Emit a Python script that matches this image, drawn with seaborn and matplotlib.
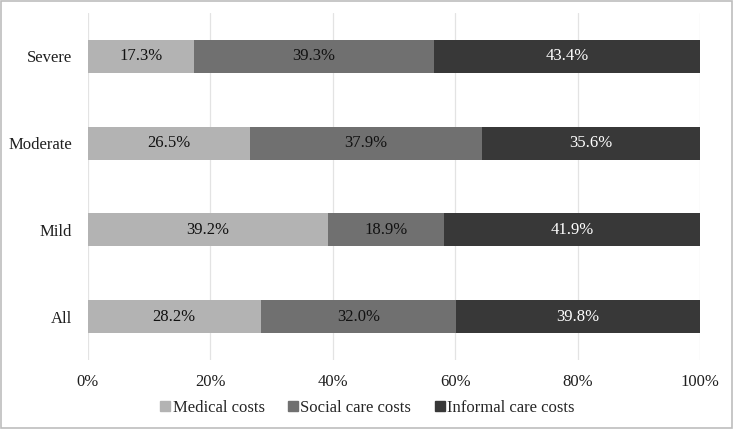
import matplotlib
matplotlib.use("Agg")
import matplotlib.pyplot as plt
import seaborn as sns
import pandas as pd
import numpy as np
from matplotlib.patches import Rectangle
from matplotlib.lines import Line2D

categories = ["Severe", "Moderate", "Mild", "All"]
medical = [17.3, 26.5, 39.2, 28.2]
social = [39.3, 37.9, 18.9, 32.0]
informal = [43.4, 35.6, 41.9, 39.8]
series_names = ["Medical costs", "Social care costs", "Informal care costs"]
colors = ["#b3b3b3", "#707070", "#383838"]
text_colors = ["#111111", "#111111", "#ffffff"]
xticks = [0, 20, 40, 60, 80, 100]

sns.set_style("white")
plt.rcParams["font.family"] = ["Liberation Serif", "DejaVu Serif"]

fig = plt.figure(figsize=(7.33, 4.29), dpi=100)
ax = fig.add_axes([0.12, 0.161, 0.835, 0.809])

med = np.array(medical)
soc = np.array(social)
inf = np.array(informal)
cum1 = med
cum2 = med + soc
cum3 = med + soc + inf

df = pd.DataFrame({"cat": categories, "c1": cum1, "c2": cum2, "c3": cum3})

for col, c in zip(["c3", "c2", "c1"], colors[::-1]):
    sns.barplot(data=df, x=col, y="cat", orient="h", color=c, width=0.38,
                saturation=1, ax=ax, zorder=3, edgecolor="none", linewidth=0)

for i, cat in enumerate(categories):
    lefts = [0, cum1[i], cum2[i]]
    vals = [med[i], soc[i], inf[i]]
    for j in range(3):
        ax.text(lefts[j] + vals[j] / 2, i, f"{vals[j]:.1f}%", ha="center", va="center",
                fontsize=12, color=text_colors[j], zorder=5)

ax.set_xlim(0, 100)
ax.set_ylim(3.5, -0.5)
ax.set_xticks(xticks)
ax.set_xticklabels([f"{t}%" for t in xticks], fontsize=12, color="#1f1f1f")
ax.tick_params(axis="y", labelsize=12, labelcolor="#1f1f1f", length=0, pad=11.5)
ax.tick_params(axis="x", length=0, pad=10)
ax.set_xlabel("")
ax.set_ylabel("")
ax.grid(axis="x", color="#e3e3e3", linewidth=0.9, zorder=0)
ax.set_axisbelow(True)
for s in ax.spines.values():
    s.set_visible(False)

handles = [Line2D([0], [0], marker="s", linestyle="none", markersize=7,
                  markerfacecolor=c, markeredgecolor=c) for c in colors]
fig.legend(handles, series_names, loc="center", bbox_to_anchor=(0.5, 0.049),
           ncol=3, frameon=False, fontsize=12, handletextpad=0.05,
           columnspacing=1.3, handlelength=0.8)

fig.patches.append(Rectangle((0.001, 0.002), 0.997, 0.995, transform=fig.transFigure,
                             fill=False, edgecolor="#bdbdbd", linewidth=1.2))

fig.savefig("out.png", dpi=100)
